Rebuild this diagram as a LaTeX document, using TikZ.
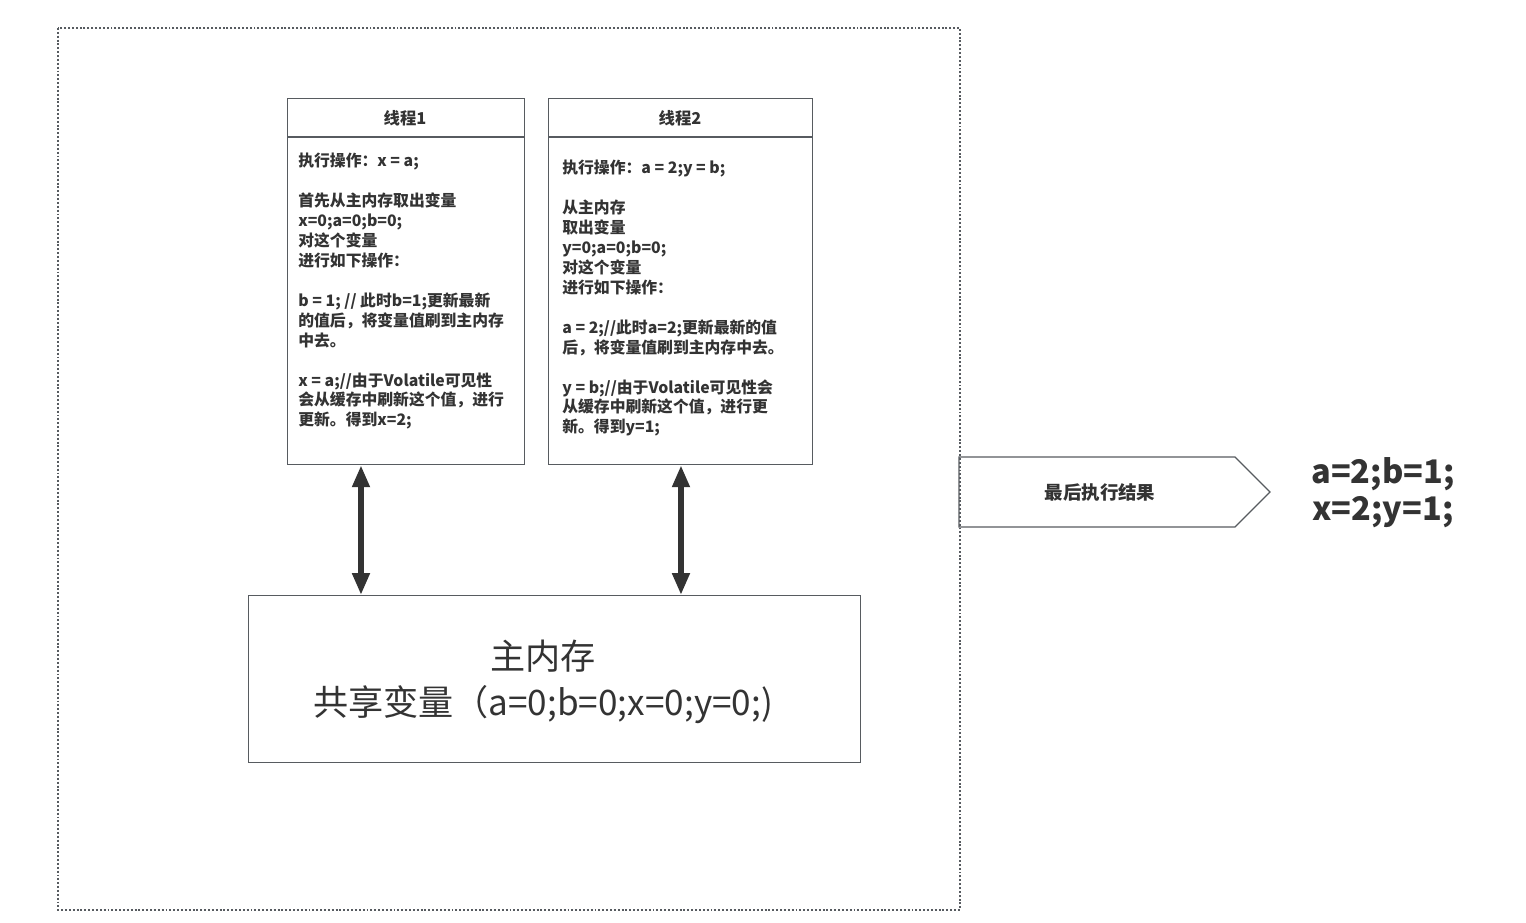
\documentclass[tikz,border=0pt]{standalone}
\usepackage{fontspec}
\setmainfont{Noto Sans CJK SC}
\usetikzlibrary{arrows.meta}
\definecolor{linegray}{HTML}{575B60}
\definecolor{textgray}{HTML}{333333}
\tikzset{
  threadbox/.style={draw=linegray, line width=0.75pt, anchor=north west, inner sep=0pt},
  boxtext/.style={anchor=north west, align=left, inner sep=0pt, text=textgray,
    font=\fontsize{9}{11.34}\selectfont\bfseries},
  dblarrow/.style={draw=textgray, line width=3.2pt, {Triangle[length=12.5pt,width=9.5pt]}-{Triangle[length=12.5pt,width=9.5pt]}}
}
\begin{document}
\begin{tikzpicture}[x=0.02cm, y=-0.02cm]
\useasboundingbox (0,0) rectangle (1526,923);
% Outer frame
\draw[linegray, line width=0.6pt, dash pattern=on 1.1pt off 1.1pt] (58,28) rectangle (960,910);

% Thread 1
\node (t1) [threadbox, minimum width=4.74cm, minimum height=7.32cm] at (287,98) {};
\draw[linegray, line width=0.75pt] (287,137) -- (524,137);
\node (t1h) [text=textgray, font=\fontsize{9.3}{10}\selectfont\bfseries] at (405,118) {线程1};
\node (t1txt) [boxtext] at (298,153) {执行操作：x = a;\\ ~\\
首先从主内存取出变量\\
x=0;a=0;b=0;\\
对这个变量\\
进行如下操作：\\ ~\\
b = 1; // 此时b=1;更新最新\\
的值后，将变量值刷到主内存\\
中去。\\ ~\\
x = a;//由于Volatile可见性\\
会从缓存中刷新这个值，进行\\
更新。得到x=2;};

% Thread 2
\node (t2) [threadbox, minimum width=5.28cm, minimum height=7.32cm] at (548,98) {};
\draw[linegray, line width=0.75pt] (548,137) -- (812,137);
\node (t2h) [text=textgray, font=\fontsize{9.3}{10}\selectfont\bfseries] at (680,118) {线程2};
\node (t2txt) [boxtext] at (562,160) {执行操作：a = 2;y = b;\\ ~\\
从主内存\\
取出变量\\
y=0;a=0;b=0;\\
对这个变量\\
进行如下操作：\\ ~\\
a = 2;//此时a=2;更新最新的值\\
后，将变量值刷到主内存中去。\\ ~\\
y = b;//由于Volatile可见性会\\
从缓存中刷新这个值，进行更\\
新。得到y=1;};

% Main memory
\node (mem) [threadbox, minimum width=12.24cm, minimum height=3.34cm] at (248,595) {};
\node (memtxt) [text=textgray, align=center, font=\fontsize{20}{26}\selectfont] at (543,682)
  {主内存\\共享变量（a=0;b=0;x=0;y=0;)};

% Read / write arrows
\draw[dblarrow] ([xshift=1.48cm]t1.south west) -- ([xshift=1.48cm]t1.south west |- mem.north);
\draw[dblarrow] ([xshift=2.66cm]t2.south west) -- ([xshift=2.66cm]t2.south west |- mem.north);

% Result
\draw[linegray, line width=0.75pt] (959,457) -- (1235,457) -- (1270,492) -- (1235,527) -- (959,527) -- cycle;
\node (res) [text=textgray, font=\fontsize{10.5}{12}\selectfont\bfseries] at (1100,493) {最后执行结果};
\node (resval) [text=textgray, align=center, font=\fontsize{18.5}{21}\selectfont\bfseries] at (1383,493)
  {a=2;b=1;\\x=2;y=1;};
\end{tikzpicture}
\end{document}
